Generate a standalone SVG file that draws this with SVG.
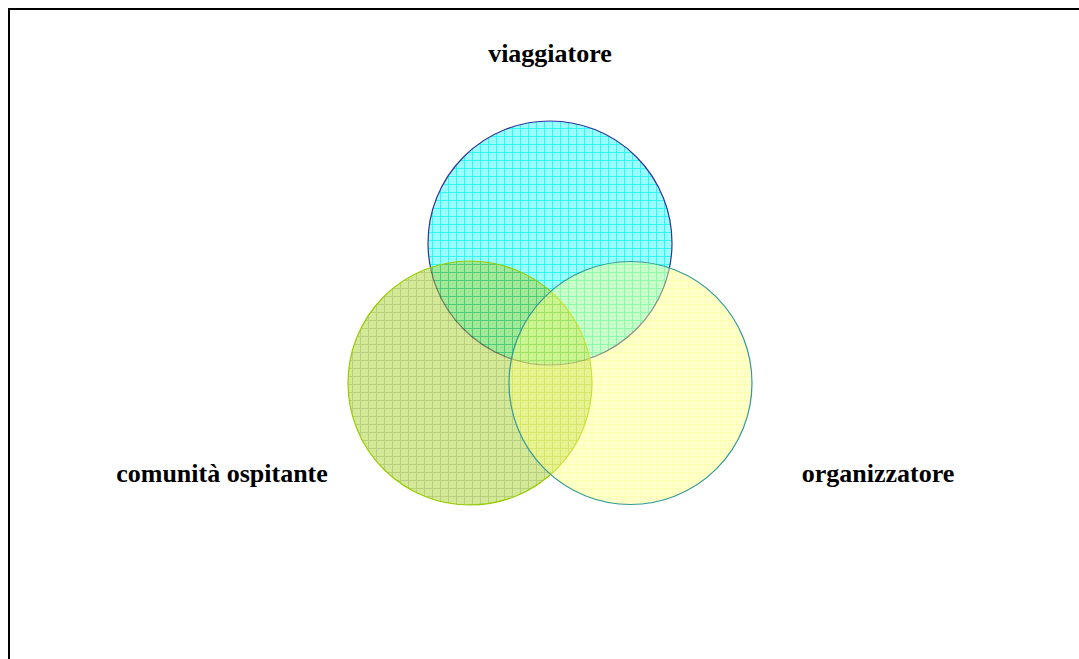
<svg xmlns="http://www.w3.org/2000/svg" width="1079" height="659" viewBox="0 0 1079 659">
<style>
.lbl{font-family:"Liberation Serif","Times New Roman",serif;font-weight:bold;font-size:26px;fill:#000}
.c{stroke-width:1.2}
</style>
<defs>
<pattern id="pc" width="8" height="8" patternUnits="userSpaceOnUse">
<rect width="8" height="8" fill="#99FFFF"/>
<path d="M0 0.5H8M0.5 0V8" stroke="#33F5F5" stroke-width="1"/>
</pattern>
<pattern id="pg" width="8" height="8" patternUnits="userSpaceOnUse">
<rect width="8" height="8" fill="#A8D430"/>
<path d="M0 0.5H8M0.5 0V8" stroke="#6FA000" stroke-width="1"/>
</pattern>
<pattern id="py" width="8" height="8" patternUnits="userSpaceOnUse">
<rect width="8" height="8" fill="#FFFF88"/>
<path d="M0 0.5H8M0.5 0V8" stroke="#FFFF50" stroke-width="1"/>
</pattern>
</defs>
<rect width="1079" height="659" fill="#fff"/>
<path d="M9 659V9H1079" fill="none" stroke="#000" stroke-width="2"/>
<g id="viaggiatore">
<circle class="c" cx="550" cy="243" r="122" fill="url(#pc)" stroke="#333399"/>
<text class="lbl" x="550" y="62" text-anchor="middle">viaggiatore</text>
</g>
<g id="comunita">
<circle class="c" cx="470" cy="383" r="122" fill="url(#pg)" fill-opacity="0.5" stroke="#99CC00"/>
<text class="lbl" x="222" y="482" text-anchor="middle">comunità ospitante</text>
</g>
<g id="organizzatore">
<circle class="c" cx="630.5" cy="383" r="121.5" fill="url(#py)" fill-opacity="0.45" stroke="#339999"/>
<text class="lbl" x="878" y="482" text-anchor="middle">organizzatore</text>
</g>
<g id="connectors"/>
</svg>
